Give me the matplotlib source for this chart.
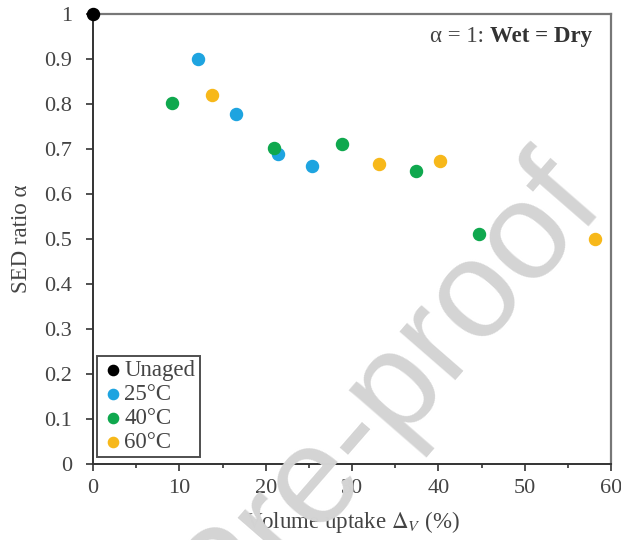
import matplotlib
matplotlib.use("Agg")
import matplotlib.pyplot as plt
from matplotlib.ticker import MultipleLocator

plt.rcParams['font.family'] = ['Liberation Serif', 'DejaVu Serif']
plt.rcParams['mathtext.fontset'] = 'stix'

# data
unaged_x = [0.0]
unaged_y = [1.0]
t25_x = [12.2, 16.6, 21.4, 25.4]
t25_y = [0.90, 0.778, 0.689, 0.662]
t40_x = [9.1, 20.9, 28.8, 37.4, 44.7]
t40_y = [0.803, 0.702, 0.711, 0.652, 0.511]
t60_x = [13.8, 33.1, 40.2, 58.1]
t60_y = [0.821, 0.668, 0.673, 0.500]
ytick_vals = [0, 0.1, 0.2, 0.3, 0.4, 0.5, 0.6, 0.7, 0.8, 0.9, 1.0]
ytick_labels = ['0', '0.1', '0.2', '0.3', '0.4', '0.5', '0.6', '0.7', '0.8', '0.9', '1']

fig = plt.figure(figsize=(6.21, 5.40), dpi=100)
ax = fig.add_axes([0.150, 0.1407, 0.834, 0.833])

ms = 75
ax.scatter(unaged_x, unaged_y, s=ms, color='black', label='Unaged', zorder=5, clip_on=False)
ax.scatter(t25_x, t25_y, s=ms, color='#1ea4e0', label='25°C', zorder=4)
ax.scatter(t40_x, t40_y, s=ms, color='#0fa84e', label='40°C', zorder=4)
ax.scatter(t60_x, t60_y, s=ms, color='#f7b81a', label='60°C', zorder=4)

ax.set_xlim(0, 60)
ax.set_ylim(0, 1)
ax.xaxis.set_major_locator(MultipleLocator(10))
ax.xaxis.set_minor_locator(MultipleLocator(5))
ax.set_yticks(ytick_vals)
ax.set_yticklabels(ytick_labels)
ax.tick_params(axis='both', which='major', direction='out', length=5, width=1.2,
               labelsize=16, colors='#333333', labelcolor='#444444')
ax.tick_params(axis='x', which='minor', direction='out', length=3, width=1.2, colors='#333333')
ax.tick_params(axis='y', pad=10)
ax.tick_params(axis='x', pad=6)

for side in ['left', 'bottom']:
    ax.spines[side].set_color('#333333')
    ax.spines[side].set_linewidth(1.4)
for side in ['top', 'right']:
    ax.spines[side].set_color('#777777')
    ax.spines[side].set_linewidth(1.6)

ax.set_xlabel('Volume uptake $\\Delta_V$ (%)', fontsize=16.5, color='#444444', labelpad=8)
ax.set_ylabel('SED ratio α', fontsize=16.5, color='#444444', labelpad=9)

ax.text(0.963, 0.951, 'α = 1: ', transform=ax.transAxes, fontsize=16.5,
        ha='right', va='center', color='#444444')
ax.text(0.963, 0.951, 'Wet = Dry', transform=ax.transAxes, fontsize=16.5,
        ha='right', va='center', color='#333333', fontweight='bold')
# shift the plain part left of the bold part
fig.canvas.draw()
bold_bb = ax.texts[-1].get_window_extent()
ax.texts[-2].set_position(ax.transAxes.inverted().transform((bold_bb.x0, bold_bb.y0 + bold_bb.height / 2)))

leg = ax.legend(loc='lower left', bbox_to_anchor=(0.007, 0.015), fontsize=16.5, frameon=True,
                fancybox=False, handletextpad=0.0, handlelength=1.0, borderpad=0.2,
                labelspacing=0.12, borderaxespad=0, markerscale=0.85)
leg.get_frame().set_edgecolor('#222222')
leg.get_frame().set_linewidth(1.4)
for t in leg.get_texts():
    t.set_color('#444444')

# watermark
fig.text(0.972, 0.635, 'Pre-proof', fontsize=100, rotation=49,
         color='#d4d4d4', family='Liberation Sans', ha='right', va='baseline',
         rotation_mode='anchor', zorder=10)

fig.savefig('out.png', dpi=100)
